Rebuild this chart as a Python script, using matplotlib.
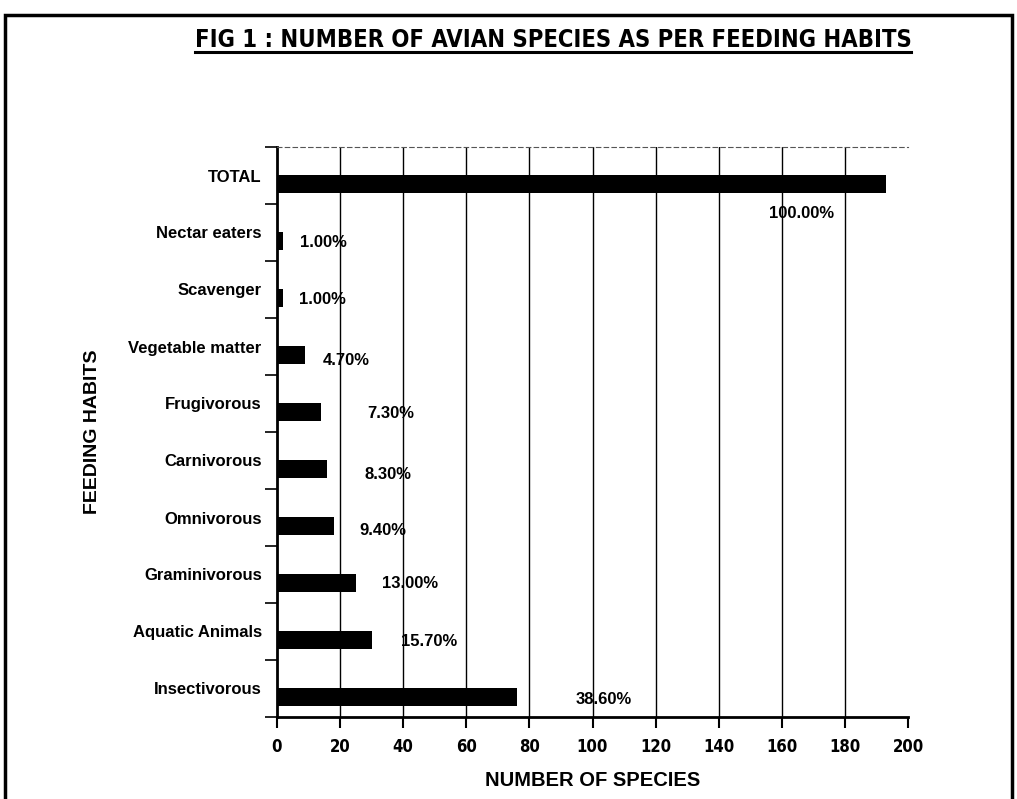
import matplotlib
matplotlib.use("Agg")
import matplotlib.pyplot as plt
from matplotlib.lines import Line2D
from matplotlib.patches import Rectangle
import numpy as np

# ---- data (bottom to top) ----
categories = ["Insectivorous", "Aquatic Animals", "Graminivorous", "Omnivorous",
              "Carnivorous", "Frugivorous", "Vegetable matter", "Scavenger",
              "Nectar eaters", "TOTAL"]
species_counts = [76, 30, 25, 18, 16, 14, 9, 2, 2, 193]
percent_labels = ["38.60%", "15.70%", "13.00%", "9.40%", "8.30%", "7.30%",
                  "4.70%", "1.00%", "1.00%", "100.00%"]
x_ticks = [0, 20, 40, 60, 80, 100, 120, 140, 160, 180, 200]

# ---- layout (label positions in data units) ----
label_x = [103.6, 48.2, 42.3, 33.6, 35.1, 36, 21.8, 14.4, 14.6, 166.3]
label_dy = [-0.20, -0.18, -0.15, -0.22, -0.24, -0.17, -0.24, -0.17, -0.18, -0.66]

plt.rcParams['font.family'] = ['Liberation Sans', 'DejaVu Sans']
COND = dict(family=['DejaVu Sans'], stretch='condensed')

fig = plt.figure(figsize=(10.17, 7.99), dpi=100)
ax = fig.add_axes([277/1017, 1 - 717/799, 631/1017, 570/799])

y = np.arange(len(categories))
bar_off = -0.155
ax.barh(y + bar_off, species_counts, height=0.32, color='black', zorder=3)

for i, (lx, txt) in enumerate(zip(label_x, percent_labels)):
    ax.text(lx, i + label_dy[i], txt, ha='center', va='center',
            fontsize=12, fontweight='bold', zorder=4)

ax.set_xlim(0, 200)
ax.set_ylim(-0.5, len(categories) - 0.5)
ax.set_xticks(x_ticks)
ax.set_xticklabels([str(t) for t in x_ticks], fontsize=12, fontweight='bold', **COND)
ax.set_yticks(y)
ax.set_yticklabels(categories, fontsize=12, fontweight='bold')
ax.set_yticks(np.arange(-0.5, len(categories), 1.0), minor=True)
ax.tick_params(axis='y', which='major', length=0, pad=11)
ax.tick_params(axis='y', which='minor', length=8.5, width=1.2, direction='out')
ax.tick_params(axis='x', which='major', length=8, width=1.5, direction='out', pad=7)

for t in x_ticks[1:-1]:
    ax.axvline(t, color='black', lw=1.0, zorder=1)

ax.spines['right'].set_visible(False)
ax.spines['top'].set_linestyle((0, (4, 3)))
ax.spines['top'].set_linewidth(0.8)
ax.spines['top'].set_color('#555555')
ax.spines['left'].set_linewidth(2)
ax.spines['bottom'].set_linewidth(2)

ax.set_xlabel("NUMBER OF SPECIES", fontsize=14.5, fontweight='bold')
ax.xaxis.set_label_coords(0.5, -(781 - 717) / 570)
ax.xaxis.label.set_va('center')
ax.set_ylabel("FEEDING HABITS", fontsize=14, fontweight='bold')
ax.yaxis.set_label_coords(-(277 - 93) / 631, 0.5)
ax.yaxis.label.set_va('center')

title = fig.text(553/1017, 1 - 40/799,
                 "FIG 1 : NUMBER OF AVIAN SPECIES AS PER FEEDING HABITS",
                 ha='center', va='center', fontsize=17, fontweight='bold', **COND)
fig.canvas.draw()
bb = title.get_window_extent().transformed(fig.transFigure.inverted())
uy = 1 - 52/799
fig.add_artist(Line2D([bb.x0, bb.x1], [uy, uy], color='black', lw=2.2,
                      transform=fig.transFigure))

fig.add_artist(Rectangle((5/1017, -0.05), 1007/1017, 1.05 - 15/799,
                         transform=fig.transFigure, fill=False,
                         edgecolor='black', lw=2.5))

fig.savefig("out.png", dpi=100)
